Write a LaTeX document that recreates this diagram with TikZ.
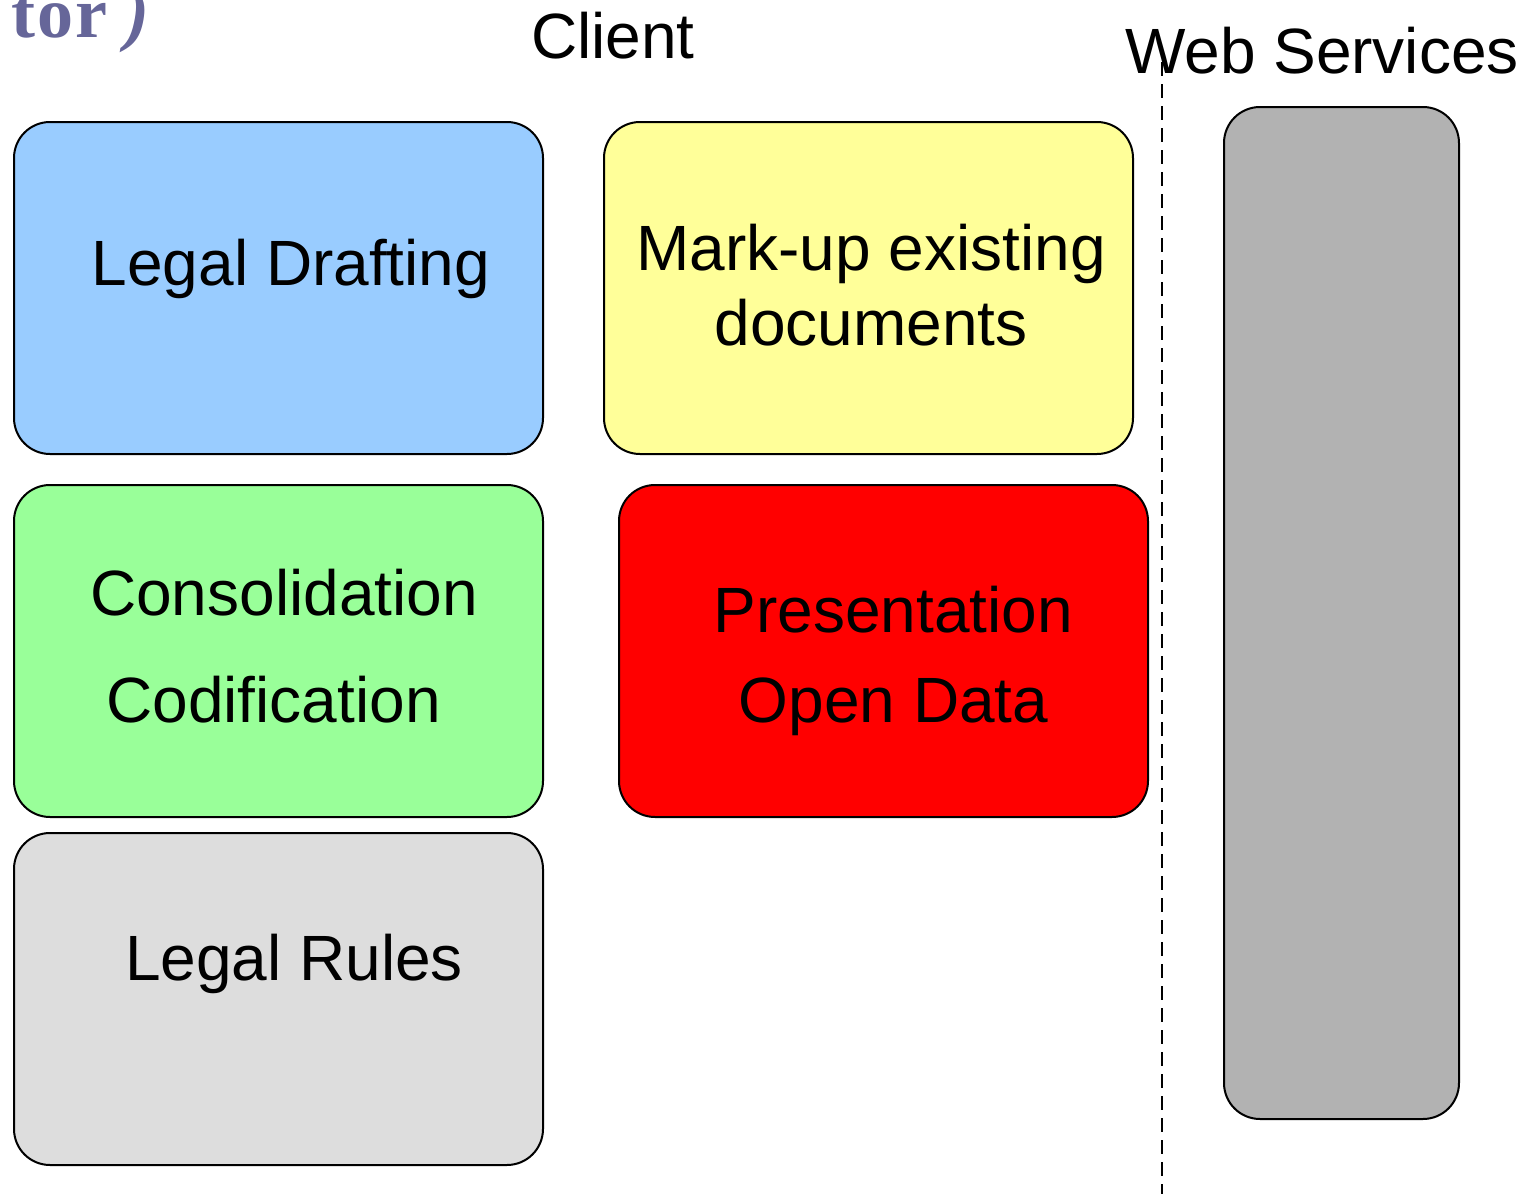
\documentclass[tikz,border=0pt]{standalone}
\usepackage{fontspec}
\setmainfont{Liberation Sans}
\newfontfamily\serifb{Liberation Serif}
\definecolor{cblue}{HTML}{99CCFF}
\definecolor{cyellow}{HTML}{FFFF99}
\definecolor{cgreen}{HTML}{99FF99}
\definecolor{cred}{HTML}{FF0000}
\definecolor{clgray}{HTML}{DDDDDD}
\definecolor{cgray}{HTML}{B2B2B2}
\definecolor{ctitle}{HTML}{666699}
\begin{document}
\begin{tikzpicture}[x=0.5pt,y=-0.5pt,
  box/.style={draw,line width=1pt,rounded corners=18pt,anchor=north west,inner sep=0,
    minimum width=264.5pt,minimum height=166pt},
  lbl/.style={anchor=base,font=\fontsize{32}{36}\selectfont,inner sep=0}]
\useasboundingbox (0,0) rectangle (1528,1194);
% title fragment
\node[anchor=base east,inner sep=0,text=ctitle,font=\serifb\bfseries\fontsize{36}{42}\selectfont] (ttl) at (150,38) {t\kern1pt o\kern1pt r\kern9pt\textit{)}};
% headers
\node[lbl] (client) at (613,58) {Client};
\node[lbl] (web) at (1322,73) {Web Services};
% separator
\coordinate (dtop) at (1162,62);
\coordinate (dbot) at (1162,1194);
\draw[line width=1pt,dash pattern=on 7pt off 4pt] (dtop) -- (dbot);
% boxes
\node[box,fill=cblue] (ld) at (13,121) {};
\node[box,fill=cyellow] (mu) at (603,121) {};
\node[box,fill=cgreen] (cc) at (13,484) {};
\node[box,fill=cred] (po) at (618,484) {};
\node[box,fill=clgray] (lr) at (13,832) {};
\node[box,fill=cgray,minimum width=117.5pt,minimum height=506pt] (ws) at (1223,106) {};
% labels
\node[lbl] (t1) at (291,285) {Legal Drafting};
\node[lbl] (t2a) at (871,270) {Mark-up existing};
\node[lbl] (t2b) at (871,345) {documents};
\node[lbl] (t3a) at (284,615) {Consolidation};
\node[lbl] (t3b) at (273.5,722) {Codification};
\node[lbl] (t4a) at (893.5,632) {Presentation};
\node[lbl] (t4b) at (893.5,722) {Open Data};
\node[lbl] (t5) at (294,980) {Legal Rules};
\end{tikzpicture}
\end{document}
